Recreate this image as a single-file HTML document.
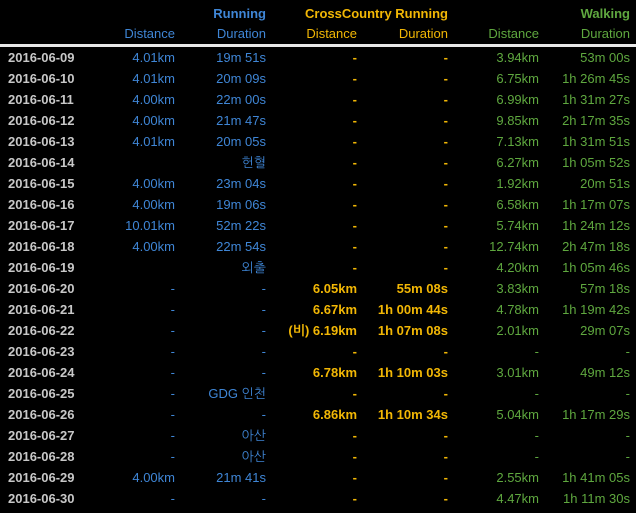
<!DOCTYPE html>
<html><head><meta charset="utf-8"><style>
body{margin:0;width:636px;height:513px;background:#000;overflow:hidden;font-family:"Liberation Sans","NanumGothic","Noto Sans CJK KR",sans-serif;font-size:13px}
.c{position:absolute;white-space:nowrap;text-align:right}
.d{color:#c8c8c8;font-weight:bold;left:8px;text-align:left}
.r{color:#3f86d6}.x{color:#f2b705;font-weight:bold}.w{color:#5fa83f}
.sep{position:absolute;left:0;top:44px;width:636px;height:3px;background:#e8e8e8}
</style></head><body>
<div>
<div class="c r" style="right:370px;top:6px;font-weight:bold">Running</div>
<div class="c x" style="right:188px;top:6px">CrossCountry Running</div>
<div class="c w" style="right:6px;top:6px;font-weight:bold">Walking</div>
<div class="c r" style="right:461px;top:26px">Distance</div>
<div class="c r" style="right:370px;top:26px">Duration</div>
<div class="c x" style="right:279px;top:26px;font-weight:normal">Distance</div>
<div class="c x" style="right:188px;top:26px;font-weight:normal">Duration</div>
<div class="c w" style="right:97px;top:26px">Distance</div>
<div class="c w" style="right:6px;top:26px">Duration</div>
<div class="sep"></div>
<div id="rows"></div>
</div>
<script>
const dates=["2016-06-09","2016-06-10","2016-06-11","2016-06-12","2016-06-13","2016-06-14","2016-06-15","2016-06-16","2016-06-17","2016-06-18","2016-06-19","2016-06-20","2016-06-21","2016-06-22","2016-06-23","2016-06-24","2016-06-25","2016-06-26","2016-06-27","2016-06-28","2016-06-29","2016-06-30"];
const runDist=["4.01km","4.01km","4.00km","4.00km","4.01km","","4.00km","4.00km","10.01km","4.00km","","-","-","-","-","-","-","-","-","-","4.00km","-"];
const runDur=["19m 51s","20m 09s","22m 00s","21m 47s","20m 05s","헌혈","23m 04s","19m 06s","52m 22s","22m 54s","외출","-","-","-","-","-","GDG 인천","-","아산","아산","21m 41s","-"];
const ccDist=["-","-","-","-","-","-","-","-","-","-","-","6.05km","6.67km","(비) 6.19km","-","6.78km","-","6.86km","-","-","-","-"];
const ccDur=["-","-","-","-","-","-","-","-","-","-","-","55m 08s","1h 00m 44s","1h 07m 08s","-","1h 10m 03s","-","1h 10m 34s","-","-","-","-"];
const walkDist=["3.94km","6.75km","6.99km","9.85km","7.13km","6.27km","1.92km","6.58km","5.74km","12.74km","4.20km","3.83km","4.78km","2.01km","-","3.01km","-","5.04km","-","-","2.55km","4.47km"];
const walkDur=["53m 00s","1h 26m 45s","1h 31m 27s","2h 17m 35s","1h 31m 51s","1h 05m 52s","20m 51s","1h 17m 07s","1h 24m 12s","2h 47m 18s","1h 05m 46s","57m 18s","1h 19m 42s","29m 07s","-","49m 12s","-","1h 17m 29s","-","-","1h 41m 05s","1h 11m 30s"];
const host=document.getElementById('rows');
function cell(txt,cls,right,top,name){
  const e=document.createElement('div');
  e.className='c '+cls;e.textContent=txt;
  if(right===null)e.style.left='8px';else e.style.right=right+'px';
  e.style.top=top+'px';
  
  
  host.appendChild(e);
}
dates.forEach((d,i)=>{
  const t=50+i*21;
  cell(d,'d',null,t,'date-cell');
  cell(runDist[i],'r',461,t,'running-distance-cell');
  cell(runDur[i],'r',370,t,'running-duration-cell');
  cell(ccDist[i],'x',279,t,'cc-distance-cell');
  cell(ccDur[i],'x',188,t,'cc-duration-cell');
  cell(walkDist[i],'w',97,t,'walking-distance-cell');
  cell(walkDur[i],'w',6,t,'walking-duration-cell');
});
</script>
</body></html>
